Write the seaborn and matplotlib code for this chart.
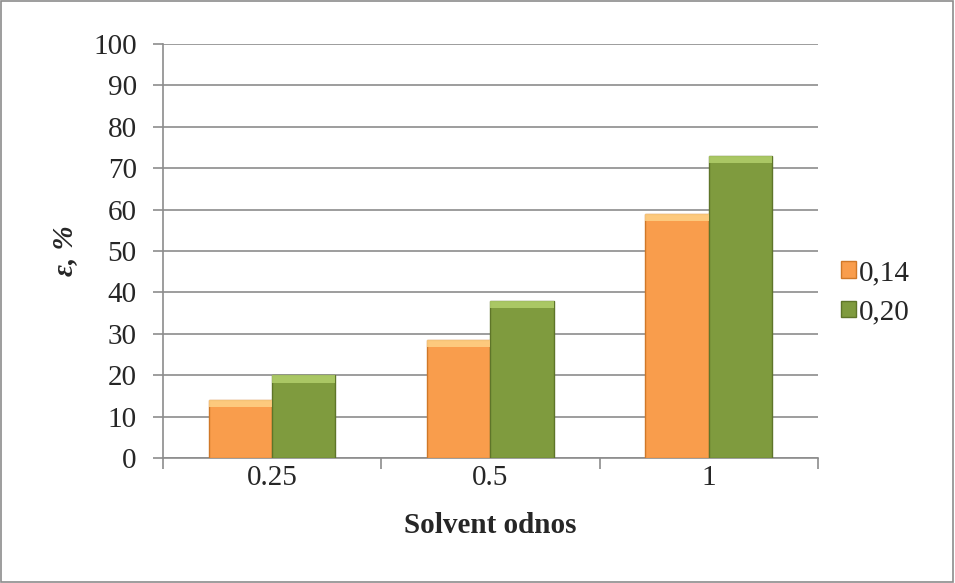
import numpy as np
import pandas as pd
import matplotlib
matplotlib.use("Agg")
import matplotlib.pyplot as plt
import seaborn as sns

ratios = ["0.25", "0.5", "1"]
series = ["0,14", "0,20"]
vals_014 = [14, 28.5, 59]
vals_020 = [20, 38, 73]

df = pd.DataFrame({
    "ratio": ratios * 2,
    "series": [series[0]] * 3 + [series[1]] * 3,
    "eps": vals_014 + vals_020,
})

sns.set_style("white")
plt.rcParams["font.family"] = ["Liberation Serif", "DejaVu Serif"]

fig = plt.figure(figsize=(9.55, 5.83), dpi=100)
ax = fig.add_axes([0.1707, 0.2144, 0.6858, 0.7101])

colors = ["#F99D4C", "#7F9B3E"]
edges = ["#D07828", "#5E7529"]
tops = ["#FFD58A", "#B5D36E"]
sns.barplot(data=df, x="ratio", y="eps", hue="series", palette=colors,
            width=0.58, saturation=1, ax=ax, legend=False)

# darker edges and a light top band, a rough stand-in for the bevel
for i, cont in enumerate(ax.containers):
    for p in cont:
        p.set_edgecolor(edges[i])
        p.set_linewidth(1.0)
        p.set_zorder(3)
        h = p.get_height()
        band = plt.Rectangle((p.get_x(), h - 1.8), p.get_width(), 1.8,
                             facecolor=tops[i], alpha=0.8, lw=0, zorder=4)
        ax.add_patch(band)

ax.set_ylim(0, 100)
ax.set_xlim(-0.5, 2.5)
ax.set_yticks(np.arange(0, 101, 10))
ax.yaxis.grid(True, color="#8C8C8C", lw=1.2)
ax.set_axisbelow(True)

for s in ["top", "right"]:
    ax.spines[s].set_visible(False)
for s in ["left", "bottom"]:
    ax.spines[s].set_color("#8C8C8C")
    ax.spines[s].set_linewidth(1.2)

ax.tick_params(axis="y", direction="out", length=7, color="#8C8C8C",
               width=1.2, labelsize=21, left=True, pad=12)
ax.set_xticks([-0.5, 0.5, 1.5, 2.5], minor=True)
ax.tick_params(axis="x", which="minor", direction="out", length=8,
               color="#8C8C8C", width=1.2, bottom=True)
ax.tick_params(axis="x", which="major", length=0, labelsize=21, pad=5)

ax.set_xlabel("Solvent odnos", fontsize=21, fontweight="bold", labelpad=15)
ax.set_ylabel("ε, %", fontsize=21, fontweight="bold", labelpad=11)
ax.yaxis.label.set_fontstyle("italic")

handles = [plt.Rectangle((0, 0), 1, 1, facecolor=colors[i],
                         edgecolor=edges[i]) for i in range(2)]
fig.legend(handles, series, loc="center left",
           bbox_to_anchor=(0.881, 0.498), frameon=False, fontsize=21,
           handlelength=0.5, handleheight=0.5, handletextpad=0.1,
           labelspacing=0.45, borderpad=0, borderaxespad=0)

fig.patches.append(plt.Rectangle((0.001, 0.001), 0.997, 0.997,
                                 transform=fig.transFigure, fill=False,
                                 edgecolor="#8C8C8C", lw=1.2))

fig.savefig("out.png", dpi=100)
